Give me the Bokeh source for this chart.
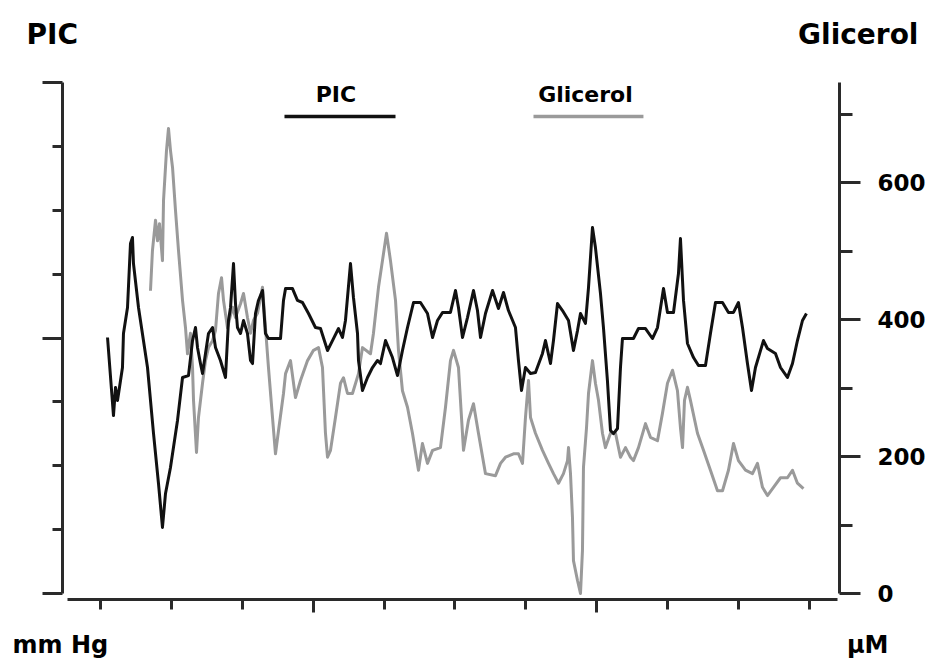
from bokeh.plotting import figure
from bokeh.models import Range1d, LinearAxis, FixedTicker, Label, Arrow
from bokeh.embed import file_html
from bokeh.resources import INLINE

# ---- data (time in min, PIC in mm Hg, Glicerol in uM) ----
t_pic = [0.99, 1.83, 2.12, 2.40, 3.10, 3.24, 3.81, 4.23, 4.51, 4.65, 5.36, 6.63, 7.48, 8.18, 8.74,
         9.17, 9.87, 10.86, 11.57, 12.41, 12.98, 13.40, 13.68, 14.10, 14.39, 14.81, 15.23, 15.80,
         16.22, 16.92, 17.63, 18.05, 18.34, 18.76, 19.04, 19.32, 19.75, 20.17, 20.73, 21.16, 21.44,
         21.86, 22.28, 22.85, 23.27, 23.69, 25.39, 25.81, 26.10, 27.08, 27.78, 28.49, 29.34, 30.32,
         31.03, 32.02, 32.72, 33.57, 34.13, 34.55, 35.26, 35.68, 36.25, 36.39, 36.95, 37.66, 38.36,
         39.07, 39.49, 40.20, 41.18, 41.89, 42.59, 43.30, 44.15, 45.13, 46.12, 46.83, 47.53, 48.24,
         49.36, 50.07, 50.49, 51.06, 51.76, 52.61, 53.17, 53.60, 54.30, 55.29, 56.13, 56.84, 57.54,
         58.53, 58.95, 59.38, 59.94, 60.65, 61.35, 62.34, 62.76, 63.47, 63.89, 64.46, 65.16, 66.01,
         66.71, 67.28, 67.70, 68.40, 68.83, 69.39, 69.81, 70.52, 70.94, 71.50, 71.93, 72.35, 72.92,
         73.34, 73.62, 75.17, 75.88, 76.87, 77.85, 78.56, 79.41, 79.97, 80.82, 81.52, 81.80, 82.09,
         82.23, 82.79, 83.64, 84.34, 85.33, 86.03, 86.74, 87.73, 88.57, 89.28, 89.98, 90.55, 91.25,
         91.82, 92.38, 93.51, 94.07, 95.20, 95.91, 96.89, 97.60, 98.30, 99.01, 99.57]
pic_mmhg = [20.04, 13.93, 16.13, 15.11, 17.69, 20.35, 22.39, 27.40, 27.87, 25.83, 22.39, 17.69, 12.52,
            8.61, 5.17, 7.83, 9.86, 13.54, 16.91, 17.06, 19.80, 20.82, 19.26, 18.00, 17.22, 18.79,
            20.35, 20.82, 19.26, 18.24, 16.91, 21.37, 22.39, 25.83, 22.70, 20.82, 20.35, 21.37, 20.35,
            18.24, 18.00, 21.92, 22.94, 23.72, 20.35, 19.96, 19.96, 22.94, 23.87, 23.87, 22.94, 22.78,
            21.92, 20.82, 20.74, 19.02, 19.80, 20.74, 20.04, 21.37, 25.83, 23.17, 20.35, 18.24, 15.89,
            16.91, 17.69, 18.24, 18.00, 19.80, 18.47, 17.06, 19.02, 20.82, 22.78, 22.78, 21.92, 20.04,
            21.37, 22.00, 22.00, 23.72, 22.39, 20.04, 21.60, 23.72, 22.15, 20.04, 21.92, 23.72, 22.31,
            23.56, 22.15, 20.82, 18.24, 15.89, 17.69, 17.22, 17.30, 18.79, 19.80, 18.00, 19.80, 22.70,
            22.15, 21.37, 19.02, 20.59, 21.92, 21.14, 23.95, 28.65, 27.08, 23.48, 20.82, 16.67, 12.76,
            12.52, 12.92, 17.69, 19.96, 19.96, 20.74, 20.74, 19.96, 20.82, 23.87, 22.00, 22.00, 25.05,
            27.79, 24.50, 22.94, 19.57, 18.47, 17.85, 17.85, 20.35, 22.78, 22.78, 22.00, 22.00, 22.78,
            20.82, 18.00, 15.89, 17.69, 19.80, 19.18, 18.79, 17.69, 16.91, 18.00, 19.80, 21.37, 21.92]

t_gli = [7.05, 7.33, 7.76, 8.04, 8.32, 8.74, 8.89, 9.31, 9.59, 9.87, 10.16, 10.58, 11.00, 11.57, 11.99,
         12.27, 12.69, 12.98, 13.12, 13.54, 13.82, 14.39, 14.81, 15.23, 15.80, 16.22, 16.64, 17.07,
         17.35, 17.91, 18.62, 19.04, 19.75, 20.17, 20.73, 21.16, 21.58, 22.14, 22.85, 23.27, 23.69,
         24.26, 24.68, 25.11, 25.81, 26.10, 26.80, 27.50, 28.21, 29.20, 30.04, 30.75, 31.31, 31.73,
         32.02, 32.44, 33.14, 33.85, 34.27, 34.84, 35.54, 36.39, 36.95, 38.08, 38.50, 39.21, 39.77,
         40.34, 40.90, 41.61, 42.03, 42.59, 43.30, 44.00, 44.85, 45.41, 46.12, 46.83, 47.95, 48.66,
         49.36, 49.79, 50.49, 51.20, 51.90, 52.61, 53.31, 54.30, 55.71, 56.42, 57.12, 58.25, 58.95,
         59.52, 59.94, 60.37, 60.65, 61.35, 62.34, 63.19, 63.89, 64.60, 65.30, 65.87, 66.01, 66.29,
         66.57, 66.71, 67.28, 67.70, 67.98, 68.12, 68.55, 68.83, 69.39, 69.81, 70.24, 70.80, 71.22,
         71.93, 72.64, 73.34, 74.05, 74.75, 75.17, 75.88, 76.87, 77.57, 78.56, 79.26, 79.97, 80.68,
         81.38, 81.80, 82.09, 82.37, 82.79, 83.21, 84.20, 85.05, 86.03, 87.02, 87.73, 88.57, 89.28,
         89.98, 90.97, 91.96, 92.66, 93.37, 94.07, 94.92, 95.91, 96.89, 97.60, 98.30, 99.15]
gli_um = [442, 501, 545, 515, 540, 486, 574, 647, 679, 647, 622, 559, 501, 428, 388, 350, 380, 330, 282,
          206, 257, 307, 340, 359, 369, 384, 438, 461, 428, 388, 418, 403, 423, 438, 403, 380, 399, 409,
          447, 388, 330, 257, 204, 238, 292, 321, 340, 286, 311, 340, 355, 359, 330, 234, 199, 209, 257,
          307, 315, 292, 292, 321, 359, 350, 380, 447, 486, 526, 486, 428, 355, 296, 272, 234, 180, 219,
          190, 209, 213, 272, 340, 355, 330, 209, 253, 277, 234, 175, 172, 190, 199, 204, 204, 190, 257,
          311, 257, 234, 209, 190, 175, 161, 175, 194, 213, 175, 111, 48, 19, 0, 63, 184, 242, 292, 340,
          307, 282, 234, 213, 234, 234, 199, 213, 199, 194, 213, 248, 228, 223, 263, 307, 326, 296, 242,
          213, 282, 301, 282, 234, 209, 180, 150, 150, 180, 219, 194, 180, 175, 190, 155, 143, 155, 169,
          169, 180, 161, 153]

x_ticks_major = [30, 70]
x_ticks_minor = [0, 10, 20, 40, 50, 60, 80, 90, 100]
pic_ticks_major = [0, 20, 40]
pic_ticks_minor = [5, 10, 15, 25, 30, 35]
gli_ticks_major = [0, 200, 400, 600]
gli_ticks_minor = [100, 300, 500, 700]

FONT = "DejaVu Sans"
AX = "#2a2a2a"
BLACK = "#111111"
GREY = "#9a9a9a"

p = figure(width=928, height=661, output_backend="svg", toolbar_location=None,
           x_range=Range1d(-14.104, 116.785), y_range=Range1d(-5.323, 46.419),
           min_border_left=0, min_border_right=0, min_border_top=0, min_border_bottom=0,
           x_axis_location=None, y_axis_location=None)
p.extra_y_ranges = {"gli": Range1d(-99.28, 865.78)}
p.xgrid.visible = False
p.ygrid.visible = False
p.outline_line_color = None
p.background_fill_color = "white"
p.border_fill_color = "white"


def style_axis(ax, major_out, minor_out):
    ax.axis_line_color = AX
    ax.axis_line_width = 3
    ax.major_tick_line_color = AX
    ax.major_tick_line_width = 3
    ax.minor_tick_line_color = AX
    ax.minor_tick_line_width = 3
    ax.major_tick_in = 0
    ax.major_tick_out = major_out
    ax.minor_tick_in = 0
    ax.minor_tick_out = minor_out


# bottom (time) axis, drawn just below the zero line
xa = LinearAxis(ticker=FixedTicker(ticks=x_ticks_major, minor_ticks=x_ticks_minor),
                bounds=(-4.65, 103.95), fixed_location=-0.47)
xa.major_label_overrides = {v: "" for v in x_ticks_major}
xa.major_label_text_font_size = "1px"
style_axis(xa, 13, 10)
p.add_layout(xa, "below")

# left PIC axis (mm Hg), no tick labels
yl = LinearAxis(ticker=FixedTicker(ticks=pic_ticks_major, minor_ticks=pic_ticks_minor),
                bounds=(0, 40), fixed_location=-5.36)
yl.major_label_overrides = {v: "" for v in pic_ticks_major}
yl.major_label_text_font_size = "1px"
style_axis(yl, 20, 10)
p.add_layout(yl, "left")

# right Glicerol axis (uM)
yr = LinearAxis(y_range_name="gli",
                ticker=FixedTicker(ticks=gli_ticks_major, minor_ticks=gli_ticks_minor),
                bounds=(0, 746), fixed_location=104.23)
style_axis(yr, 21, 13)
yr.major_label_standoff = 17
yr.major_label_text_font = FONT
yr.major_label_text_font_style = "bold"
yr.major_label_text_font_size = "23px"
yr.major_label_text_color = "black"
p.add_layout(yr, "right")

# series
p.line(t_gli, gli_um, y_range_name="gli", line_color=GREY, line_width=3, line_join="round")
p.line(t_pic, pic_mmhg, line_color=BLACK, line_width=3, line_join="round")

# legend (label above a line sample)
p.add_layout(Arrow(end=None, x_start=25.95, y_start=37.34, x_end=41.61, y_end=37.34,
                   line_color=BLACK, line_width=3.5))
p.add_layout(Arrow(end=None, x_start=61.07, y_start=37.34, x_end=76.58, y_end=37.34,
                   line_color=GREY, line_width=3.5))
p.add_layout(Label(x=33.21, y=39.06, text="PIC", text_align="center", text_baseline="alphabetic",
                   text_font=FONT, text_font_style="bold", text_font_size="22px", text_color="black"))
p.add_layout(Label(x=68.40, y=39.06, text="Glicerol", text_align="center", text_baseline="alphabetic",
                   text_font=FONT, text_font_style="bold", text_font_size="22px", text_color="black"))

# axis titles
p.add_layout(Label(x=-10.44, y=43.76, text="PIC", text_align="left", text_baseline="alphabetic",
                   text_font=FONT, text_font_style="bold", text_font_size="28px", text_color="black"))
p.add_layout(Label(x=115.37, y=43.76, text="Glicerol", text_align="right", text_baseline="alphabetic",
                   text_font=FONT, text_font_style="bold", text_font_size="28px", text_color="black"))
p.add_layout(Label(x=-12.41, y=-4.02, text="mm Hg", text_align="left", text_baseline="alphabetic",
                   text_font=FONT, text_font_style="bold", text_font_size="24px", text_color="black"))
p.add_layout(Label(x=111.14, y=-4.02, text="µM", text_align="right", text_baseline="alphabetic",
                   text_font=FONT, text_font_style="bold", text_font_size="24px", text_color="black"))

open("out.html", "w").write(file_html(p, INLINE))
